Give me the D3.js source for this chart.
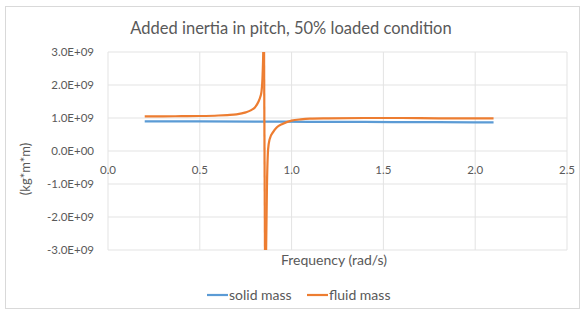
<!DOCTYPE html>
<html>
<head>
<meta charset="utf-8">
<script src="https://cdn.jsdelivr.net/npm/d3@7"></script>
<style>
  body { margin: 0; background: #fff; }
  text { font-family: Lato, "Open Sans", sans-serif; fill: #595959; }
</style>
</head>
<body>
<div id="chart-area"></div>
<script>
// data (values in kg*m*m)
var solidFreq = [0.2, 0.5, 0.8, 1.1, 1.4, 1.7, 2.0, 2.1];
var solidMass = [0.90e9, 0.895e9, 0.89e9, 0.885e9, 0.88e9, 0.875e9, 0.87e9, 0.87e9];

var fluidFreq = [0.2, 0.3, 0.4, 0.5, 0.6, 0.65, 0.7, 0.75, 0.78, 0.8, 0.82, 0.83, 0.836, 0.842, 0.847, 0.85,
  0.855, 0.86, 0.866, 0.872, 0.88, 0.9, 0.92, 0.95, 1.0, 1.05, 1.1, 1.2, 1.4, 1.6, 1.8, 2.0, 2.1];
var fluidMass = [1.05e9, 1.05e9, 1.055e9, 1.06e9, 1.075e9, 1.09e9, 1.11e9, 1.17e9, 1.24e9, 1.32e9, 1.5e9, 1.65e9, 1.8e9, 2.3e9, 3.5e9, 8e9,
  -8e9, -3.5e9, -1.0e9, 0.05e9, 0.35e9, 0.58e9, 0.72e9, 0.82e9, 0.92e9, 0.96e9, 0.98e9, 0.99e9, 1.0e9, 1.0e9, 0.99e9, 0.99e9, 0.99e9];

var xTicks = [0, 0.5, 1.0, 1.5, 2.0, 2.5];
var yTicks = [-3e9, -2e9, -1e9, 0, 1e9, 2e9, 3e9];

var W = 584, H = 314;
var svg = d3.select("#chart-area").append("svg")
  .attr("width", W).attr("height", H);

svg.append("rect")
  .attr("x", 5.5).attr("y", 6.5).attr("width", 574).attr("height", 302)
  .attr("fill", "#fff").attr("stroke", "#d9d9d9");

var x = d3.scaleLinear().domain([0, 2.5]).range([108, 567]);
var y = d3.scaleLinear().domain([-3e9, 3e9]).range([250, 52]);

// gridlines
svg.append("g").selectAll("line.h").data(yTicks).enter().append("line")
  .attr("x1", x(0)).attr("x2", x(2.5))
  .attr("y1", d => y(d)).attr("y2", d => y(d))
  .attr("stroke", "#e3e3e3");
svg.append("g").selectAll("line.v").data(xTicks).enter().append("line")
  .attr("x1", d => x(d)).attr("x2", d => x(d))
  .attr("y1", y(3e9)).attr("y2", y(-3e9))
  .attr("stroke", "#e3e3e3");

// y tick labels
svg.append("g").selectAll("text").data(yTicks).enter().append("text")
  .attr("x", 94).attr("y", d => y(d) + 4)
  .attr("text-anchor", "end").attr("font-size", 11.5)
  .text(d => (d / 1e9).toFixed(1) + (d === 0 ? "E+00" : "E+09"));

// x tick labels
svg.append("g").selectAll("text").data(xTicks).enter().append("text")
  .attr("x", d => x(d)).attr("y", y(0) + 23)
  .attr("text-anchor", "middle").attr("font-size", 11.5)
  .text(d => d.toFixed(1));

svg.append("clipPath").attr("id", "plot")
  .append("rect").attr("x", x(0)).attr("y", y(3e9))
  .attr("width", x(2.5) - x(0)).attr("height", y(-3e9) - y(3e9));

var line = d3.line()
  .x(d => x(d[0])).y(d => y(d[1]))
  .curve(d3.curveMonotoneX);

svg.append("path")
  .datum(d3.zip(solidFreq, solidMass))
  .attr("d", line)
  .attr("fill", "none").attr("stroke", "#5b9bd5").attr("stroke-width", 2.2)
  .attr("clip-path", "url(#plot)");

var upper = d3.zip(fluidFreq, fluidMass).slice(0, 16);
var lower = d3.zip(fluidFreq, fluidMass).slice(16);
[upper, lower].forEach(function(seg) {
  svg.append("path")
    .datum(seg)
    .attr("d", line)
    .attr("fill", "none").attr("stroke", "#ed7d31").attr("stroke-width", 2.2)
    .attr("clip-path", "url(#plot)");
});
// jump between the two branches
svg.append("line")
  .attr("x1", x(fluidFreq[15])).attr("x2", x(fluidFreq[16]))
  .attr("y1", y(3e9)).attr("y2", y(-3e9))
  .attr("stroke", "#ed7d31").attr("stroke-width", 2.2);

// titles
svg.append("text").attr("x", 291).attr("y", 34)
  .attr("text-anchor", "middle").attr("font-size", 16.5).attr("fill", "#404040")
  .text("Added inertia in pitch, 50% loaded condition");

svg.append("text")
  .attr("transform", "translate(30,169) rotate(-90)")
  .attr("text-anchor", "middle").attr("font-size", 13)
  .text("(kg*m*m)");

svg.append("text").attr("x", 334).attr("y", 265)
  .attr("text-anchor", "middle").attr("font-size", 14)
  .text("Frequency (rad/s)");

// legend
var legend = [["solid mass", "#5b9bd5", 207], ["fluid mass", "#ed7d31", 307]];
legend.forEach(function(l) {
  svg.append("line").attr("x1", l[2]).attr("x2", l[2] + 21)
    .attr("y1", 295).attr("y2", 295)
    .attr("stroke", l[1]).attr("stroke-width", 2.2);
  svg.append("text").attr("x", l[2] + 22).attr("y", 300)
    .attr("font-size", 14).text(l[0]);
});
</script>
</body>
</html>
